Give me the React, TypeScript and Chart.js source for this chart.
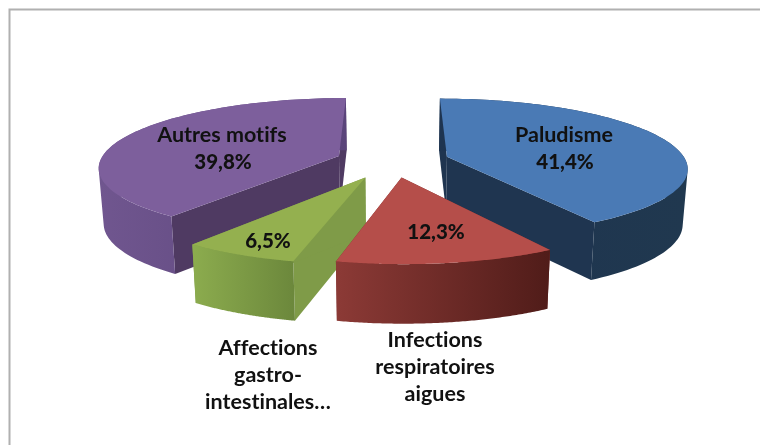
import React, { useEffect, useRef } from "react";
import { Chart, registerables } from "chart.js";

Chart.register(...registerables);

const categories = ["Paludisme", "Infections respiratoires aigues", "Affections gastro-intestinales", "Autres motifs"];
const values = [41.4, 12.3, 6.5, 39.8];
const valueLabels = ["41,4%", "12,3%", "6,5%", "39,8%"];
const nameLines = [["Paludisme"], ["Infections", "respiratoires", "aigues"], ["Affections", "gastro-", "intestinales…"], ["Autres motifs"]];
const topColors = ["#4a7ab5", "#b54e4a", "#94b04f", "#7d5f9c"];
const sideLeft = ["#1e3450", "#8c3a36", "#8cac4e", "#70568f"];
const sideRight = ["#20384f", "#501c19", "#6c883c", "#5a447a"];
const cutColors = ["#1f3550", "#7a2f2c", "#7f9b48", "#4f3a62"];
const offsets = [47, 47, 51, 47];
const drawOrder = [0, 3, 2, 1];
const valuePos = [[565, 162], [436, 232], [268, 241], [223, 162]];
const namePos = [[564, 135], [435, 340], [268, 348], [222, 135]];
const nameStep = [0, 27, 27, 0];

const CX = 392.5, CY = 161, A = 239, B = 68, K = 0.15, DEPTH = 55;

const project = (u: number, v: number, low: boolean): [number, number] => {
  const w = 1 - K * v;
  if (low) return [CX + (A * 0.983 * u) / w, CY + DEPTH + (71 * v) / w];
  return [CX + (A * u) / w, CY + (B * v) / w];
};

const addPoly = (ctx: CanvasRenderingContext2D, pts: [number, number][]) => {
  pts.forEach((p, i) => (i ? ctx.lineTo(p[0], p[1]) : ctx.moveTo(p[0], p[1])));
  ctx.closePath();
};

const fillPoly = (ctx: CanvasRenderingContext2D, pts: [number, number][], color: string) => {
  ctx.beginPath();
  addPoly(ctx, pts);
  ctx.fillStyle = color;
  ctx.fill();
};

const area = (pts: [number, number][]) =>
  pts.reduce((sum, p, i) => {
    const q = pts[(i + 1) % pts.length];
    return sum + p[0] * q[1] - q[0] * p[1];
  }, 0);

const pie3d = {
  id: "pie3d",
  beforeDatasetDraw(chart: any) {
    const ctx: CanvasRenderingContext2D = chart.ctx;
    const arcs = chart.getDatasetMeta(0).data;
    ctx.save();
    drawOrder.forEach((i) => {
      const arc = arcs[i];
      const R = arc.outerRadius;
      const off = arc.options.offset / R;
      const mid = (arc.startAngle + arc.endAngle) / 2;
      const au = Math.cos(mid) * off;
      const av = Math.sin(mid) * off;
      const n = 96;
      const rim: [number, number][] = [];
      for (let s = 0; s <= n; s++) {
        const t = arc.startAngle + ((arc.endAngle - arc.startAngle) * s) / n;
        rim.push([au + Math.cos(t), av + Math.sin(t)]);
      }
      const a = rim[0];
      const b = rim[n];
      fillPoly(ctx, [project(au, av, false), project(a[0], a[1], false), project(a[0], a[1], true), project(au, av, true)], cutColors[i]);
      fillPoly(ctx, [project(au, av, false), project(b[0], b[1], false), project(b[0], b[1], true), project(au, av, true)], cutColors[i]);
      const upper = rim.map((p) => project(p[0], p[1], false));
      const lower = rim.map((p) => project(p[0], p[1], true));
      const xs = upper.map((p) => p[0]);
      const grad = ctx.createLinearGradient(Math.min(...xs), 0, Math.max(...xs), 0);
      grad.addColorStop(0, sideLeft[i]);
      grad.addColorStop(1, sideRight[i]);
      ctx.beginPath();
      for (let s = 0; s < n; s++) {
        const quad: [number, number][] = [upper[s], upper[s + 1], lower[s + 1], lower[s]];
        addPoly(ctx, area(quad) < 0 ? quad.reverse() : quad);
      }
      ctx.fillStyle = grad;
      ctx.fill("nonzero");
      fillPoly(ctx, [project(au, av, false), ...upper], topColors[i]);
    });
    ctx.restore();
    return false;
  },
  afterDatasetsDraw(chart: any) {
    const ctx: CanvasRenderingContext2D = chart.ctx;
    ctx.save();
    ctx.textAlign = "center";
    ctx.textBaseline = "middle";
    ctx.fillStyle = "#111111";
    (ctx as any).letterSpacing = "0.01px";
    values.forEach((_, i) => {
      ctx.font = "bold 21.5px Lato";
      nameLines[i].forEach((line, k) => ctx.fillText(line, namePos[i][0], namePos[i][1] + k * nameStep[i]));
      ctx.font = "900 20.5px Lato";
      ctx.fillText(valueLabels[i], valuePos[i][0], valuePos[i][1]);
    });
    ctx.strokeStyle = "#b0b0b0";
    ctx.lineWidth = 2;
    ctx.beginPath();
    ctx.moveTo(9.5, 445);
    ctx.lineTo(9.5, 9.5);
    ctx.lineTo(760, 9.5);
    ctx.stroke();
    ctx.restore();
  },
};

export default function App() {
  const ref = useRef<HTMLCanvasElement>(null);
  useEffect(() => {
    document.body.style.margin = "0";
    document.body.style.background = "#ffffff";
    const chart = new Chart(ref.current!, {
      type: "pie",
      data: {
        labels: categories,
        datasets: [{ data: values, backgroundColor: topColors, borderWidth: 0, offset: offsets }],
      },
      options: {
        responsive: false,
        animation: false,
        events: [],
        plugins: { legend: { display: false }, tooltip: { enabled: false } },
      },
      plugins: [pie3d],
    } as any);
    return () => chart.destroy();
  }, []);
  return <canvas ref={ref} width={760} height={445} style={{ display: "block" }} />;
}
